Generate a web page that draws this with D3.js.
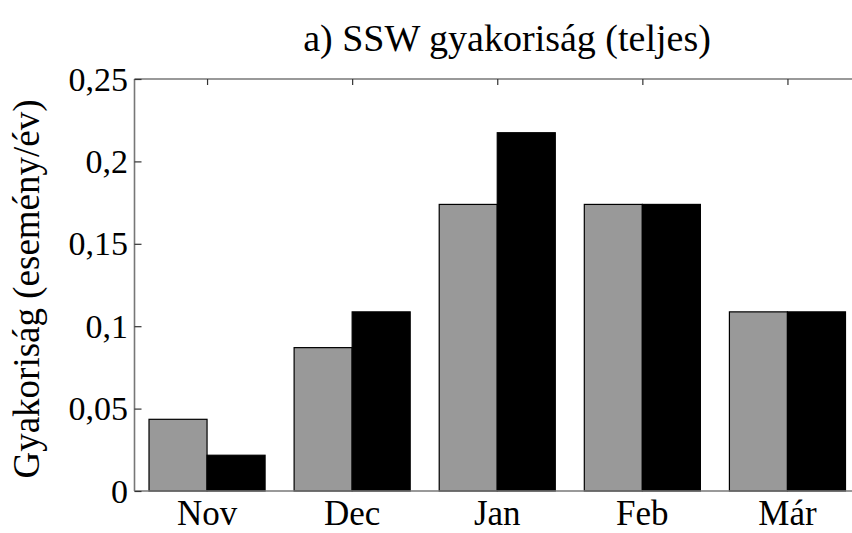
<!DOCTYPE html>
<html>
<head>
<meta charset="utf-8">
<script src="https://cdn.jsdelivr.net/npm/d3@7"></script>
<style>
  html, body { margin: 0; padding: 0; background: #fff; }
  svg text { font-family: "Liberation Serif", "Times New Roman", serif; fill: #000; }
</style>
</head>
<body>
<svg id="chart" width="852" height="533"></svg>
<script>
// Monthly SSW frequency (events/year), two series per month
const months = ["Nov", "Dec", "Jan", "Feb", "Már"];
const seriesGray  = [0.0435, 0.0870, 0.1739, 0.1739, 0.1087];
const seriesBlack = [0.0217, 0.1087, 0.2174, 0.1739, 0.1087];
const yTicks = [0, 0.05, 0.1, 0.15, 0.2, 0.25];
const yTickLabels = ["0", "0,05", "0,1", "0,15", "0,2", "0,25"];
const titleText = "a) SSW gyakoriság (teljes)";
const yLabelText = "Gyakoriság (esemény/év)";

(function () {
  const svg = d3.select("#chart");
  const plotLeft = 134.5, plotRight = 860, plotTop = 79, plotBottom = 491;

  const x = d3.scaleLinear().domain([0.5, months.length + 0.5]).range([plotLeft, plotRight]);
  const y = d3.scaleLinear().domain([0, 0.25]).range([plotBottom, plotTop]);
  const barW = 0.4;
  const axisColor = "#777";

  // Bars
  const g = svg.append("g");
  g.selectAll("rect.gray").data(seriesGray).join("rect")
    .attr("class", "gray")
    .attr("x", (d, i) => x(i + 1 - barW))
    .attr("width", (d, i) => x(i + 1) - x(i + 1 - barW))
    .attr("y", d => y(d))
    .attr("height", d => y(0) - y(d))
    .attr("fill", "#999999")
    .attr("stroke", "#000")
    .attr("stroke-width", 1.2);

  g.selectAll("rect.black").data(seriesBlack).join("rect")
    .attr("class", "black")
    .attr("x", (d, i) => x(i + 1))
    .attr("width", (d, i) => x(i + 1 + barW) - x(i + 1))
    .attr("y", d => y(d))
    .attr("height", d => y(0) - y(d))
    .attr("fill", "#000")
    .attr("stroke", "#000")
    .attr("stroke-width", 1.2);

  // Axis box lines (left, bottom, top)
  svg.append("line").attr("x1", plotLeft).attr("x2", plotLeft).attr("y1", plotTop).attr("y2", plotBottom)
    .attr("stroke", axisColor).attr("stroke-width", 1.6);
  svg.append("line").attr("x1", plotLeft).attr("x2", plotRight).attr("y1", plotBottom).attr("y2", plotBottom)
    .attr("stroke", axisColor).attr("stroke-width", 1.6);
  svg.append("line").attr("x1", plotLeft).attr("x2", plotRight).attr("y1", plotTop).attr("y2", plotTop)
    .attr("stroke", axisColor).attr("stroke-width", 1.6);

  // Y axis: inward ticks with comma-decimal labels
  const yAxis = d3.axisRight(y).tickValues(yTicks).tickSize(7).tickFormat("");
  const yg = svg.append("g").attr("transform", `translate(${plotLeft},0)`).call(yAxis);
  yg.select(".domain").remove();
  yg.selectAll(".tick line").attr("stroke", "#333").attr("stroke-width", 1.2);

  svg.append("g").selectAll("text").data(yTicks).join("text")
    .attr("x", 128)
    .attr("y", d => y(d))
    .attr("dy", "0.34em")
    .attr("text-anchor", "end")
    .attr("font-size", 34)
    .text((d, i) => yTickLabels[i]);

  // X axis: inward ticks at top, month labels below
  const xTop = d3.axisBottom(x).tickValues(d3.range(1, months.length + 1)).tickSize(6).tickFormat("");
  const xtg = svg.append("g").attr("transform", `translate(0,${plotTop})`).call(xTop);
  xtg.select(".domain").remove();
  xtg.selectAll(".tick line").attr("stroke", "#333").attr("stroke-width", 1.2);

  svg.append("g").selectAll("text").data(months).join("text")
    .attr("x", (d, i) => x(i + 1))
    .attr("y", 525)
    .attr("text-anchor", "middle")
    .attr("font-size", 35)
    .text(d => d);

  // Title
  svg.append("text")
    .attr("x", 507)
    .attr("y", 51)
    .attr("text-anchor", "middle")
    .attr("font-size", 38)
    .text(titleText);

  // Y axis label
  svg.append("text")
    .attr("transform", "translate(39,289) rotate(-90)")
    .attr("text-anchor", "middle")
    .attr("font-size", 37)
    .text(yLabelText);
})();
</script>
</body>
</html>
